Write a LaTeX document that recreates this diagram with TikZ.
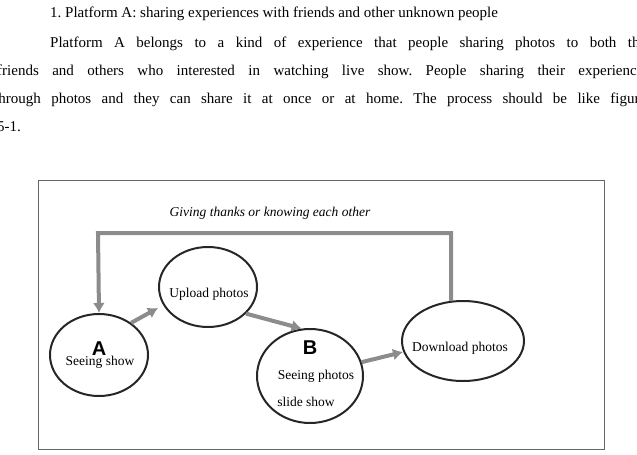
\documentclass[tikz,border=0pt]{standalone}
\usepackage{fontspec}
\usetikzlibrary{shapes.geometric,arrows.meta}
\setmainfont{Liberation Serif}
\newfontfamily\sansb{Liberation Sans}
\frenchspacing
\begin{document}
\begin{tikzpicture}[x=1pt,y=-1pt,
  bubble/.style={draw=black!85,line width=2pt,ellipse,inner sep=0pt},
  flow/.style={draw=black!45,line width=4pt,-{Latex[length=10pt,width=12pt]}},
  para/.style={anchor=base west,font=\fontsize{15}{18}\selectfont,inner sep=0pt},
  lbl/.style={font=\fontsize{13.5}{15}\selectfont,inner sep=0pt}]
\useasboundingbox (0,0) rectangle (637,455);
\clip (0,0) rectangle (637,455);
\node[para] (l1) at (50,17) {1. Platform A: sharing experiences with friends and other unknown people};
\node[para] (l2) at (50,47) {\makebox[596pt][s]{Platform A belongs to a kind of experience that people sharing photos to both the}};
\node[para] (l3) at (-3,75) {\makebox[652pt][s]{friends and others who interested in watching live show. People sharing their experiences}};
\node[para] (l4) at (-6,103) {\makebox[652pt][s]{through photos and they can share it at once or at home. The process should be like figure}};
\node[para] (l5) at (-3,131) {5-1.};
\node[draw=black!60,line width=0.8pt,minimum width=566pt,minimum height=269pt,anchor=north west] (frame) at (38,180) {};
\node[bubble,minimum width=98pt,minimum height=82pt] (A) at (99,355) {};
\node[font=\sansb\bfseries\fontsize{20}{20}\selectfont] (Al) at (99,349) {A};
\node[lbl] (At) at (100,362) {Seeing show};
\node[bubble,minimum width=98pt,minimum height=80pt] (U) at (208,287) {};
\node[lbl] (Ut) at (209,294) {Upload photos};
\node[bubble,minimum width=106pt,minimum height=94pt] (B) at (310,376) {};
\node[font=\sansb\bfseries\fontsize{20}{20}\selectfont] (Bl) at (310,348) {B};
\node[lbl] (Bt1) at (316,376) {Seeing photos};
\node[lbl] (Bt2) at (306,402) {slide show};
\node[bubble,minimum width=122pt,minimum height=80pt] (D) at (463,341) {};
\node[lbl] (Dt) at (460,348) {Download photos};
\node[font=\itshape\fontsize{13.5}{15}\selectfont] (G) at (270,213) {Giving thanks or knowing each other};
\coordinate (tr) at (451,233);
\coordinate (tl) at (98,233);
\draw[flow] (451,301) -- (tr) -- (tl) -- (A.north);
\draw[flow] (A.45) -- (158,308);
\draw[flow] (U.-35) -- (B.100);
\draw[flow] (B.15) -- (403,352);
\end{tikzpicture}
\end{document}
